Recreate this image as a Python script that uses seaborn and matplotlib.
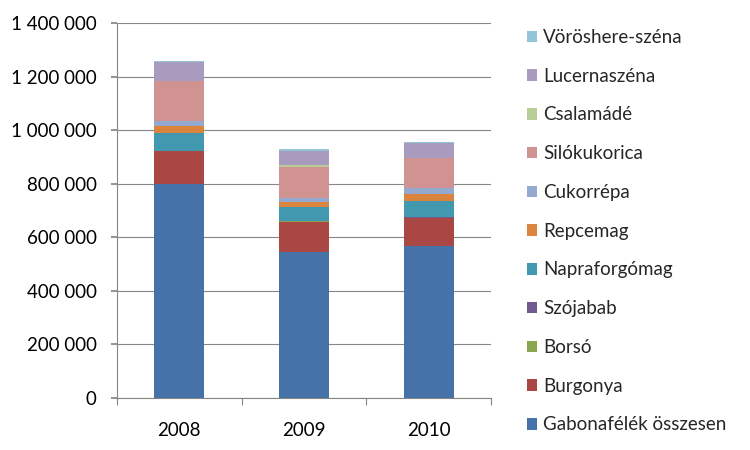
import numpy as np
import pandas as pd
import seaborn as sns
import matplotlib
matplotlib.use("Agg")
import matplotlib.pyplot as plt
from matplotlib.ticker import FuncFormatter, FixedLocator
from matplotlib.patches import Patch

# data
years = ["2008", "2009", "2010"]
series = ["Gabonafélék összesen", "Burgonya", "Borsó", "Szójabab", "Napraforgómag",
          "Repcemag", "Cukorrépa", "Silókukorica", "Csalamádé", "Lucernaszéna",
          "Vöröshere-széna"]
gabona = [799000, 546000, 567000]
burgonya = [122000, 112000, 105000]
borso = [1000, 1000, 1000]
szojabab = [1000, 1000, 1000]
napraforgo = [66000, 54000, 61000]
repcemag = [26000, 19000, 27000]
cukorrepa = [19000, 15000, 22000]
silokukorica = [149000, 116000, 112000]
csalamade = [1000, 5000, 1500]
lucerna = [71000, 55000, 56000]
voroshere = [4000, 4000, 4000]

colors = ["#4572A7", "#AA4643", "#89A54E", "#71588F", "#4198AF", "#DB843D",
          "#93A9CF", "#D19392", "#B9CD96", "#A99BBD", "#92C5D8"]

values = [gabona, burgonya, borso, szojabab, napraforgo, repcemag, cukorrepa,
          silokukorica, csalamade, lucerna, voroshere]

sns.set_theme(style="white")
plt.rcParams["font.family"] = ["Lato", "DejaVu Sans"]
FS = 13.5

# cumulative tops for stacking
rows = []
cum = np.zeros(len(years))
for name, vals in zip(series, values):
    cum = cum + np.array(vals)
    for yr, c in zip(years, cum):
        rows.append({"year": yr, "series": name, "top": c})
df = pd.DataFrame(rows)

fig = plt.figure(figsize=(7.5, 4.5), dpi=100)
ax = fig.add_axes([117 / 750, 52 / 450, 374 / 750, 375 / 450])

grid_col = "#868686"
for name, col in reversed(list(zip(series, colors))):
    sub = df[df["series"] == name]
    sns.barplot(data=sub, x="year", y="top", color=col, saturation=1,
                width=0.4, errorbar=None, linewidth=0, ax=ax, order=years)

ax.set_xlim(-0.5, 2.5)
ax.set_ylim(0, 1400000)
ax.set_yticks(np.arange(0, 1400001, 200000))
ax.yaxis.set_major_formatter(FuncFormatter(lambda v, p: f"{v:,.0f}".replace(",", " ")))
ax.yaxis.grid(True, color=grid_col, linewidth=0.8)
ax.set_axisbelow(True)
ax.set_xlabel("")
ax.set_ylabel("")

for s in ["top", "right"]:
    ax.spines[s].set_visible(False)
for s in ["left", "bottom"]:
    ax.spines[s].set_color(grid_col)
    ax.spines[s].set_linewidth(0.8)

ax.tick_params(axis="y", which="major", left=True, length=4, color=grid_col,
               labelsize=FS, labelcolor="black", pad=10.5)
ax.tick_params(axis="x", which="major", bottom=False, labelsize=FS,
               labelcolor="black", pad=11)
ax.xaxis.set_minor_locator(FixedLocator([-0.5, 0.5, 1.5, 2.5]))
ax.tick_params(axis="x", which="minor", bottom=True, length=5, color=grid_col,
               width=0.8)

handles = [Patch(facecolor=c, edgecolor="none") for c in colors]
leg = fig.legend(handles[::-1], series[::-1], loc="upper left",
                 bbox_to_anchor=(527 / 750, 1 - 29 / 450), frameon=False,
                 fontsize=FS, handlelength=0.55, handleheight=0.55,
                 handletextpad=0.3, labelspacing=1.16, borderpad=0,
                 borderaxespad=0)

fig.savefig("out.png", dpi=100)
